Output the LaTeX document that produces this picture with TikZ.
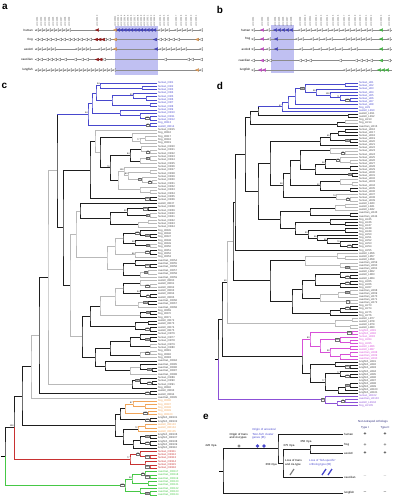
\documentclass[tikz,border=0pt]{standalone}
\usepackage{fontspec}
\setmainfont{Liberation Sans}
\usetikzlibrary{calc}
\definecolor{qb}{RGB}{72,72,205}
\definecolor{qg}{RGB}{185,185,185}
\definecolor{qk}{RGB}{30,30,30}
\definecolor{lk}{RGB}{70,70,70}
\definecolor{qo}{RGB}{240,165,90}
\definecolor{qr}{RGB}{200,50,50}
\definecolor{qdr}{RGB}{160,25,25}
\definecolor{qn}{RGB}{70,200,70}
\definecolor{qm}{RGB}{215,80,215}
\definecolor{qp}{RGB}{140,80,215}
\definecolor{qsh}{RGB}{192,192,242}
\tikzset{
    leaf/.style = {anchor=west, inner sep=0pt, xshift=.8bp, font=\fontsize{2.7}{3}\selectfont},
    bs/.style = {draw=black!55, line width=.2bp, fill=white, inner sep=.3bp, anchor=east, font=\fontsize{2.2}{2.4}\selectfont},
    bn/.style = {inner sep=.3bp, anchor=south east, font=\fontsize{2.2}{2.4}\selectfont},
    row/.style = {anchor=east, inner sep=0pt, font=\fontsize{3}{3.5}\selectfont},
    gname/.style = {rotate=90, anchor=west, inner sep=0pt, text=black!70, font=\fontsize{2.2}{2.4}\selectfont},
    panel/.style = {inner sep=0pt, font=\fontsize{10}{10}\selectfont\bfseries},
    etxt/.style = {inner sep=0pt, align=left, font=\fontsize{2.9}{3.4}\selectfont},
    sg/.style = {inner sep=0pt, font=\fontsize{5}{5}\selectfont\bfseries},
    gg/.style = {draw=black!60, fill=white, line width=.25bp},
    gf/.style = {draw=#1!75!black, fill=#1, line width=.25bp}
}
% clade: name, x of node, upper child, lower child
\newcommand\clade[5][qk]{%
    \coordinate (#2) at ($(#4)!.5!(#5)$);
    \coordinate (#2) at (perpendicular cs: horizontal line through={(#2)}, vertical line through={(#3,0)});
    \draw[#1] (#4) -| (#2) |- (#5);}
% gene arrow
\newcommand\gn[3][gg]{\filldraw[#1, shift={(#2,#3)}] (1.7,-1.4) -- (-1.7,0) -- (1.7,1.4) -- cycle;}
\begin{document}
\begin{tikzpicture}[x=1bp, y=-1bp, line width=.45bp]
\useasboundingbox (0,0) rectangle (393,499);

\node[panel] (pa) at (5,6.5) {a};
\node[panel] (pb) at (220,10) {b};
\node[panel] (pc) at (4.5,86) {c};
\node[panel] (pd) at (220,86) {d};
\node[panel] (pe) at (206,417) {e};

%% a, b: clusters
\fill[qsh] (115,26) rectangle (158,75);
\fill[qsh] (271,25) rectangle (294,73);
\foreach \yy/\nm in {30/human,39.5/frog,49/axolotl,59.5/caecilian,70/lungfish}{
    \draw[black!45, line width=.4bp] (35,\yy) -- (203,\yy);
    \node[row] (ra-\nm) at (33,\yy) {\nm};}
\foreach \yy/\nm in {30/human,39/frog,49/axolotl,60.5/caecilian,70/lungfish}{
    \draw[black!45, line width=.4bp] (252,\yy) -- (392,\yy);
    \node[row] (rb-\nm) at (250.5,\yy) {\nm};}
\foreach \yy/\xs in {30/{37,41,45,49,53,57,61,65,69,160,164,168,176,181,186,191,201},
        39.5/{37,41,46,50,55,60,64,69,73,77,81,86,90,105,109,160,164,168,173,178,201},
        49/{37,41,46,50,54,77,81,85,89,100,105,110,161,165,170,175,180,185,201},
        59.5/{37,41,47,51,55,59,65,75,82,87,104,165,188,192,201},
        70/{37,41,45,50,54,58,62,66,70,74,78,82,86,90,94,98,102,106,110,114,201},
        30/{253,268,300,305,310,316,321,327,333,338,344,349,355,360,366,371,389},
        39/{253,269,297,302,312,318,325,331,345,350,355,360,365,370,389},
        49/{253,268,301,312,320,328,334,341,350,356,389},
        60.5/{253,266,270,300,305,310,340,356,361,366,371,389},
        70/{253,345,350,355,360,365,370}}{
    \foreach \xx in \xs {\gn{\xx}{\yy}}}
\foreach \xx/\yy in {97/30,96/39.5,99.5/39.5,103/39.5,97/59.5,100.5/59.5}{\gn[gf=qdr]{\xx}{\yy}}
\foreach \xx/\yy in {115/30,115/39.5,115/49,197/39.5,197/70}{\gn[gf=qo]{\xx}{\yy}}
\foreach \xx/\yy in {118/30,121.3/30,124.6/30,127.9/30,131.2/30,134.5/30,137.8/30,141.1/30,144.4/30,147.7/30,151/30,154.3/30,155/39.5,156/49,
        275/30,279/30,283/30,287/30,291/30,276/39,276/49}{\gn[gf=qb]{\xx}{\yy}}
\foreach \xx/\yy in {262/30,262/39,262/49,262/60.5,260/70,264/70}{\gn[gf=qm]{\xx}{\yy}}
\foreach \xx/\yy in {381/30,381/39,381/49,381/60.5,379/70,383/70,387/70}{\gn[gf=qn]{\xx}{\yy}}
\foreach \xx [count=\k] in {37,41,45,49,53,57,61,65,69,97,115,118,121.3,124.6,127.9,131.2,134.5,137.8,141.1,144.4,147.7,151,154.3,160,164,168,176,181,186,191,196}
    \node[gname] (ga\k) at (\xx,26.5) {LOC100\k};
\foreach \xx [count=\k] in {253,262,268,275,279,283,287,291,300,305,310,316,321,327,333,338,344,349,355,360,366,371,381,389}
    \node[gname] (gb\k) at (\xx,26.5) {LOC200\k};

%% c: tree
\foreach \i in {1,...,124} \coordinate (c\i) at (157,{83+(\i-1)*3.35});
\clade[qb]{b1}{142}{c2}{c3} \clade[qb]{b2}{100}{c1}{b1} \clade[qb]{b3}{146}{c5}{c6} \clade[qb]{b4}{133}{c4}{b3}
\clade[qb]{b5}{150}{c7}{c8} \clade[qb]{b6}{112}{b4}{b5} \clade[qb]{b7}{96}{b2}{b6} \clade[qb]{b8}{150}{c11}{c12}
\clade[qb]{b9}{140}{c10}{b8} \clade[qb]{b10}{120}{c9}{b9} \clade[qb]{b11}{92}{b7}{b10} \clade[qb]{b12}{150}{c13}{c14}
\clade[qb]{bA}{88}{b11}{b12}
\clade[qg]{a1}{145}{c17}{c18} \clade[qg]{a2}{140}{a1}{c19} \clade[qg]{a3}{132}{c16}{a2}
\clade[qg]{s1}{150}{c21}{c22} \clade[qg]{s2}{141}{c20}{s1} \clade[qg]{s3}{150}{c23}{c24} \clade[qg]{s3b}{140}{s3}{c25} \clade{s4}{130}{s2}{s3b}
\clade[qg]{s5}{152}{c30}{c31} \clade[qg]{s6}{142}{c29}{s5} \clade[qg]{s7}{150}{c27}{c28} \clade[qg]{s8}{128}{s7}{s6} \clade[qg]{s9}{124}{c26}{s8}
\clade[qg]{s13}{150}{c33}{c34} \clade[qg]{s14}{140}{c32}{s13} \clade[qg]{s10}{118}{s9}{s14} \clade{s11}{110}{s4}{s10}
\clade{a5}{100}{a3}{s11} \clade[qg]{a6}{95}{c15}{a5} \clade{a7}{150}{c35}{c36} \clade{A}{90}{a6}{a7}
\clade{e1}{148}{c38}{c39} \clade[qg]{e2}{150}{c40}{c41} \clade{e3}{127}{e1}{e2} \clade[qg]{e4}{148}{c42}{c43} \clade[qg]{e5}{138}{e4}{c44}
\clade{e6}{110}{e3}{e5} \clade{e7}{80}{c37}{e6}
\clade{f1}{150}{c46}{c47} \clade{f2}{140}{c45}{f1} \clade[qg]{f3}{150}{c49}{c50} \clade{f4}{135}{c48}{f3} \clade{f5}{123}{f2}{f4}
\clade{f6}{150}{c51}{c52} \clade[qg]{f7}{135}{f6}{c53} \clade[qg]{f8}{115}{f5}{f7}
\clade{h1}{150}{c55}{c56} \clade{h2}{135}{c54}{h1} \clade[qg]{h3}{148}{c57}{c58} \clade[qg]{h4}{140}{h3}{c59} \clade{h5}{123}{h2}{h4}
\clade[qg]{f9}{107}{f8}{h5} \clade[qg]{B1}{76}{e7}{f9}
\clade[qg]{k1}{150}{c61}{c62} \clade[qg]{k2}{140}{c60}{k1} \clade{k3}{150}{c64}{c65} \clade{k4}{140}{c63}{k3} \clade{k5}{123}{k2}{k4}
\clade{k6}{148}{c66}{c67} \clade[qg]{k7}{138}{k6}{c68} \clade[qg]{k8}{115}{k5}{k7} \clade{k9}{150}{c69}{c70} \clade{k10}{140}{k9}{c71}
\clade[qg]{k11}{100}{k8}{k10}
\clade{m1}{148}{c72}{c73} \clade{m2}{150}{c74}{c75} \clade{m3}{135}{m1}{m2} \clade{m4}{90}{k11}{m3}
\clade{n1}{150}{c77}{c78} \clade{n2}{140}{c76}{n1} \clade[qg]{n3}{150}{c79}{c80} \clade{n4}{130}{n2}{n3}
\clade[qg]{n5}{150}{c81}{c82} \clade[qg]{n6}{140}{n5}{c83} \clade{n7}{110}{n4}{n6}
\clade{p1}{152}{c86}{c87} \clade{p2}{140}{c85}{p1} \clade[qg]{p3}{130}{p2}{c88} \clade{p4}{105}{c84}{p3}
\clade{n8}{95}{n7}{p4} \clade{B2}{82}{m4}{n8}
\clade[qg]{R72}{70}{B1}{B2} \clade{Q65}{63}{A}{R72} \clade{N57}{57}{bA}{Q65}
\draw[qb] (bA) -- (bA -| N57);
\clade{q1}{152}{c90}{c91} \clade{q2}{140}{c89}{q1} \clade{q2b}{132}{q2}{c92}
\clade[qg]{N48}{48}{N57}{q2b} \clade{q3}{150}{c93}{c94} \clade{N39}{39}{N48}{q3} \clade[qg]{N31}{31}{N39}{c95}
\clade[qo]{o1}{145}{c97}{c98} \clade[qo]{o2}{133}{c96}{o1} \clade[qo]{o3}{148}{c99}{c100} \clade[qo]{o4}{125}{o2}{o3}
\clade{o5}{150}{c101}{c102} \clade{o6}{120}{o4}{o5}
\clade[qo]{o7}{145}{c103}{c104} \clade[qo]{o8}{138}{o7}{c105}
\clade{o9}{150}{c106}{c107} \clade{o10}{150}{c108}{c109} \clade{o11}{140}{o9}{o10} \clade{o12}{133}{o11}{c110}
\clade{o13}{123}{o8}{o12} \clade{OB}{115}{o6}{o13}
\clade{N22}{22}{N31}{OB}
\clade[qr]{r1}{150}{c112}{c113} \clade[qr]{r2}{140}{c111}{r1} \clade[qr]{r3}{150}{c115}{c116} \clade[qr]{r4}{145}{c114}{r3} \clade[qr]{Rd}{130}{r2}{r4}
\clade{N15}{14}{N22}{Rd} \draw[qr] (Rd) -| (N15);
\clade[qn]{g1}{150}{c118}{c119} \clade[qn]{g2}{145}{c117}{g1} \clade[qn]{g3}{148}{c120}{c121} \clade[qn]{g4}{132}{g2}{g3}
\clade[qn]{g5}{150}{c123}{c124} \clade[qn]{g6}{140}{c122}{g5} \clade[qn]{Gn}{125}{g4}{g6}
\clade{root}{5}{N15}{Gn} \draw[qn] (Gn) -| (root);
\draw (root) -- ++(-4,0);
\foreach \p/\q/\sp/\cc in {1/12/human/qb, 13/13/frog/qb, 14/14/axolotl/qb, 15/15/human/lk, 16/19/frog/lk, 20/36/human/lk,
        37/37/axolotl/lk, 38/44/human/lk, 45/53/frog/lk, 54/59/caecilian/lk, 60/65/axolotl/lk, 66/68/caecilian/lk,
        69/71/frog/lk, 72/75/axolotl/lk, 76/80/human/lk, 81/83/frog/lk, 84/88/caecilian/lk, 89/91/human/lk,
        92/92/frog/lk, 93/94/axolotl/lk, 95/95/caecilian/lk, 96/100/frog/qo, 101/102/lungfish/lk, 103/105/axolotl/qo,
        106/110/lungfish/lk, 111/116/human/qr, 117/124/caecilian/qn}{
    \foreach \i in {\p,...,\q}{\node[leaf, text=\cc] (lc\i) at (c\i) {\sp\_OR\i};}}
\foreach \n/\v in {b8/100, b12/97, s1/77, s3/97, s5/96, s6/77, a7/100, e1/100, e2/97, f1/100, f2/100, f3/96, f6/100,
        h1/100, h3/96, k1/100, k3/97, k6/100, k9/99, m2/100, n1/100, n5/100, p1/100, q1/100, q2/100, q3/100,
        o3/100, o5/100, o9/100, o10/100, r1/100, r2/79, r3/100, g1/100, g2/84, g5/100, Gn/100}
    \node[bs] (bs-\n) at ([xshift=-.4]\n) {\v};
\foreach \n/\v in {b2/94, b4/93, bA/54, a2/77, s4/84, s8/83, s9/100, s11/79, e3/92, f4/99, f7/86, k4/94,
        o2/87, o8/72, Rd/77, g4/98, N15/100}
    \node[bn] (bn-\n) at (\n) {\v};

%% d: tree
\foreach \i in {1,...,105} \coordinate (d\i) at (358,{83+(\i-1)*3.1});
\clade[qb]{u1}{350}{d6}{d7} \clade[qb]{u2}{340}{d5}{u1} \clade[qb]{u3}{330}{d4}{u2} \clade[qb]{u4}{316}{d3}{u3}
\clade[qb]{u5}{345}{d1}{d2} \clade[qb]{u6}{305}{u5}{u4} \clade[qb]{u7}{295}{u6}{d8} \clade[qb]{u8}{288}{u7}{d9} \clade[qb]{uB}{282}{u8}{d10}
\clade{v1}{348}{d11}{d12} \clade{V258}{258}{uB}{v1} \draw[qb] (uB) -- (uB -| V258);
\clade[qg]{v2}{345}{d13}{d14} \clade{v3}{337}{v2}{d15} \clade{U1}{250}{V258}{v3}
\clade{w1}{345}{d16}{d17} \clade{w1b}{338}{w1}{d18} \clade{w2}{350}{d19}{d20} \clade{w3}{330}{w1b}{w2} \clade{w4}{320}{w3}{d21}
\clade[qg]{x1}{345}{d23}{d24} \clade[qg]{x2}{330}{d22}{x1} \clade[qg]{x3}{350}{d26}{d27} \clade[qg]{x4}{340}{d25}{x3} \clade{x5}{350}{d28}{d29}
\clade{x6}{325}{x4}{x5} \clade{x7}{352}{d30}{d31} \clade{x8}{315}{x6}{x7} \clade{x9}{300}{x2}{x8}
\clade[qg]{x10}{352}{d33}{d34} \clade[qg]{x11}{340}{d32}{x10} \clade{x12}{350}{d35}{d36} \clade{x13}{320}{x11}{x12} \clade{x14}{290}{x9}{x13}
\clade[qg]{x15}{350}{d38}{d39} \clade[qg]{x16}{336}{d37}{x15} \clade{x17}{283}{x14}{x16}
\clade{W270}{270}{w4}{x17}
\clade{z10}{350}{d43}{d44} \clade[qg]{z11}{345}{d40}{d41} \clade[qg]{z12}{335}{z11}{d42} \clade{z13}{310}{z12}{z10}
\clade{z7}{345}{d46}{d47} \clade{z8}{330}{d45}{z7} \clade{z5}{345}{d48}{d49}
\clade{z1}{352}{d53}{d54} \clade{z2}{340}{d52}{z1} \clade{z3}{327}{d51}{z2} \clade{z4}{317}{d50}{z3} \clade{z6}{308}{z5}{z4}
\clade{z9}{295}{z8}{z6} \clade{z14}{280}{z13}{z9}
\clade{U2}{258}{W270}{z14} \clade{U3}{245}{U1}{U2} \clade{U4}{235}{U3}{d55}
\clade[qg]{t1}{345}{d57}{d58} \clade[qg]{t2}{337}{d56}{t1} \clade[qg]{t3}{350}{d60}{d61} \clade[qg]{t4}{340}{d59}{t3} \clade[qg]{t5}{305}{t2}{t4}
\clade{t6}{350}{d63}{d64} \clade{t7}{340}{d62}{t6} \clade{t8}{350}{d65}{d66} \clade{t9}{340}{t8}{d67} \clade{t10}{315}{t7}{t9}
\clade[qg]{t11}{350}{d68}{d69} \clade[qg]{t12}{338}{t11}{d70} \clade[qg]{t13}{350}{d71}{d72} \clade[qg]{t14}{320}{t12}{t13} \clade{t15}{302}{t10}{t14}
\clade{t20}{350}{d73}{d74} \clade{t21}{340}{t20}{d75} \clade{t22}{330}{t21}{d76} \clade{t23}{292}{t15}{t22}
\clade{t16}{270}{t5}{t23}
\clade[qg]{t17}{352}{d77}{d78} \clade[qg]{t18}{350}{d79}{d80} \clade[qg]{t19}{335}{t17}{t18}
\clade{U5}{233}{U4}{t16} \clade[qg]{N227}{227}{U5}{t19}
\clade[qm]{i1}{352}{d81}{d82} \clade[qm]{i2}{350}{d84}{d85} \clade[qm]{i3}{340}{d83}{i2} \clade[qm]{i4}{350}{d86}{d87}
\clade[qm]{i7}{350}{d88}{d89} \clade[qm]{i8}{340}{i7}{d90} \clade[qm]{i9}{330}{i4}{i8} \clade[qm]{i5}{320}{i3}{i9} \clade[qm]{i6}{310}{i1}{i5}
\clade{l1}{350}{d92}{d93} \clade{l2}{335}{d91}{l1} \clade{l3}{350}{d95}{d96} \clade{l4}{340}{d94}{l3}
\clade{l5}{350}{d98}{d99} \clade{l6}{345}{l5}{d100} \clade{l6b}{338}{l6}{d101} \clade{l7}{325}{l4}{l6b} \clade{l8}{310}{l2}{l7}
\clade{LM}{302}{i6}{l8} \draw[qm] (i6) -| (LM);
\clade{N222}{222}{N227}{LM}
\clade[qp]{pp1}{345}{d103}{d104} \clade[qp]{pp2}{337}{pp1}{d105} \clade[qp]{Pp}{325}{d102}{pp2}
\clade{droot}{218}{N222}{Pp} \draw[qp] (Pp) -| (droot);
\draw (droot) -- ++(-3,0);
\foreach \p/\q/\sp/\cc in {1/8/human/qb, 9/9/frog/qb, 10/10/axolotl/qb, 11/12/axolotl/lk, 13/14/frog/lk, 15/15/caecilian/lk,
        16/39/human/lk, 40/42/axolotl/lk, 43/44/caecilian/lk, 45/55/frog/lk, 56/58/axolotl/lk, 59/61/caecilian/lk,
        62/64/axolotl/lk, 65/67/frog/lk, 68/72/caecilian/lk, 73/76/frog/lk, 77/80/axolotl/lk, 81/82/lungfish/qm,
        83/83/human/qm, 84/85/frog/qm, 86/87/axolotl/qm, 88/90/caecilian/qm, 91/101/lungfish/lk,
        102/102/human/qp, 103/103/caecilian/qp, 104/104/axolotl/qp, 105/105/frog/qp}{
    \foreach \i in {\p,...,\q}{\node[leaf, text=\cc] (ld\i) at (d\i) {\sp\_LR\i};}}
\foreach \n/\v in {u6/100, u1/100, w2/100, x1/98, x4/58, x7/84, x15/75, z1/100, t3/100, t6/100, t8/100, t11/100,
        t13/77, t20/100, i1/100, i3/100, l1/100, l3/100, l5/100, pp1/76, Pp/32}
    \node[bs] (bs-\n) at ([xshift=-.4]\n) {\v};
\foreach \n/\v in {u4/96, u3/100, u2/71, uB/47, w3/45, x6/56, x13/52, x16/74, x17/98, z6/93, z4/66, z3/86,
        z2/79, i9/90, i6/83, l4/77, l7/77, N227/60}
    \node[bn] (bn-\n) at (\n) {\v};

%% e: species tree
\coordinate (eh) at (343,434); \coordinate (efr) at (343,445); \coordinate (eax) at (343,453);
\coordinate (eca) at (343,477); \coordinate (elu) at (343,493);
\clade{ebat}{310}{efr}{eax} \clade{eam}{283}{ebat}{eca} \clade{etet}{278}{eh}{eam} \clade{eroot}{223}{etet}{elu}
\draw (eroot) -- ++(-4,0);
\foreach \n/\t/\a/\b/\ca/\cc in {eh/human/+/+/black!85/black!85, efr/frog/+/+/black!55/black!55,
        eax/axolotl/+/+/black!85/black!85, eca/caecilian/–/–/black!25/black!25, elu/lungfish/–/–/black!55/black!55}{
    \node[etxt, anchor=west] (n-\n) at ([xshift=1]\n) {\t};
    \node[sg, text=\ca] (s1-\n) at ($(\n)+(22,0)$) {\a};
    \node[sg, text=\cc] (s2-\n) at ($(\n)+(42,0)$) {\b};}
\node[etxt, text=qb!60!black] (hd) at (373,422) {Non-tetrapod orthologs};
\node[etxt, text=qb!60!black] (ty1) at (365,428) {Type I};
\node[etxt, text=qb!60!black] (ty2) at (385,428) {Type II};
\node[etxt, text=qb] (eo1) at (264,430) {Origin of ancestral};
\node[etxt, text=qb, anchor=north west] (eo2) at (252,433) {`Non-fish' cluster\\genes (IB)};
\node[etxt, anchor=north east] (eo3) at (248,433) {Origin of trans\\and cis-types};
\node[etxt] (em1) at (211,446) {420 mya};
\node[etxt] (em2) at (289,445.5) {375 mya};
\node[etxt] (em3) at (306,441.5) {350 mya};
\node[etxt, anchor=east] (em4) at (277,465) {360 mya};
\node[etxt, anchor=north west] (el1) at (285,459.5) {Loss of trans\\and cis-type};
\node[etxt, text=qb, anchor=north west] (el2) at (309,459.5) {Loss of `fish-specific'\\ortholog type (IB)};
\fill[black!45] (239,444.3) -- (240.7,446) -- (239,447.7) -- (237.3,446) -- cycle;
\foreach \xx in {257.5,264}
    \fill[qb] (\xx,444) -- (\xx+1.8,446) -- (\xx,448) -- (\xx-1.8,446) -- cycle;
\draw[black!50, line width=1.2bp] (290,475) -- (294,469);
\draw[qb, line width=1.3bp] (322,475) -- (326,469) (328,475) -- (332,469);
\end{tikzpicture}
\end{document}
